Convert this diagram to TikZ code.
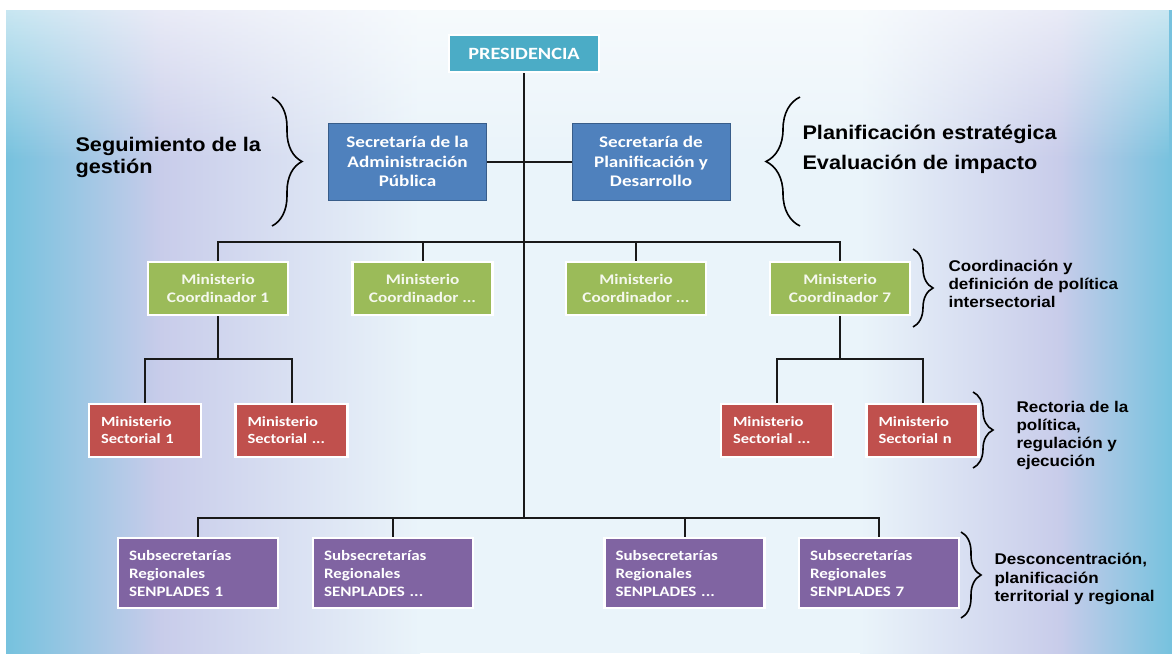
\documentclass[tikz,border=0pt]{standalone}
\usepackage{fontspec}
\setmainfont{Liberation Sans}[FakeStretch=1.1]
\newfontfamily\boxfont{Carlito}[FakeStretch=1.18]
\usetikzlibrary{decorations.pathreplacing, fadings}

\begin{document}
\begin{tikzpicture}[
    x=1pt, y=-1pt,
    % Define colors
    /utils/exec={
        \definecolor{orgTeal}{RGB}{75, 172, 198}
        \definecolor{orgBlue}{RGB}{79, 129, 189}
        \definecolor{orgBlueDark}{RGB}{56, 93, 138}
        \definecolor{orgGreen}{RGB}{155, 187, 89}
        \definecolor{orgRed}{RGB}{192, 80, 77}
        \definecolor{orgPurple}{RGB}{128, 100, 162}
        \definecolor{orgLine}{RGB}{25, 25, 25}
        \definecolor{bgBlue}{RGB}{118, 194, 222}
        \definecolor{bgLav}{RGB}{200, 204, 234}
        \definecolor{bgPale}{RGB}{234, 244, 250}
    },
    % Node Styles
    box/.style={
        draw=white, line width=2.5pt, inner sep=0pt,
        minimum height=53pt, align=center, text=white,
        font=\boxfont\bfseries\fontsize{14.6}{18}\selectfont
    },
    presbox/.style={box, fill=orgTeal, minimum width=150pt, minimum height=37pt,
        font=\boxfont\bfseries\fontsize{17.2}{20}\selectfont},
    secbox/.style={box, draw=orgBlueDark, line width=1pt, fill=orgBlue,
        minimum width=158pt, minimum height=77pt,
        font=\boxfont\bfseries\fontsize{16.2}{19.5}\selectfont},
    coordbox/.style={box, fill=orgGreen, minimum width=140pt, text=white!90!orgGreen},
    sectbox/.style={box, fill=orgRed, align=left, inner xsep=12pt, text width=88pt,
        font=\boxfont\bfseries\fontsize{14}{17}\selectfont},
    subbox/.style={box, fill=orgPurple, align=left, inner xsep=11pt, text width=138pt,
        minimum height=70pt, font=\boxfont\bfseries\fontsize{14.4}{18}\selectfont},
    note/.style={anchor=west, align=left, font=\bfseries\fontsize{15.5}{18}\selectfont},
    bignote/.style={anchor=west, align=left, font=\bfseries\fontsize{19.7}{22}\selectfont},
    conn/.style={draw=orgLine, line width=2pt},
    brc/.style={decorate, decoration={brace, amplitude=#1}, line width=1.6pt},
    brc/.default=20pt
]

% =================================================================
% BACKGROUND
% =================================================================
\useasboundingbox (0,0) rectangle (1172,653);
\fill[white] (0,0) rectangle (1172,653);
\shade[left color=bgBlue, right color=bgLav] (6,10) rectangle (160,653);
\shade[left color=bgLav, right color=bgPale] (160,10) rectangle (420,653);
\fill[bgPale] (420,10) rectangle (860,653);
\shade[left color=bgPale, right color=bgLav] (860,10) rectangle (1060,653);
\shade[left color=bgLav, right color=bgBlue] (1060,10) rectangle (1172,653);
\fill[white, opacity=0.6, path fading=south] (6,10) rectangle (1172,160);

% =================================================================
% TOP: PRESIDENCY AND SECRETARIES
% =================================================================
\node[presbox] (pres) at (524, 53.5) {PRESIDENCIA};

\node[secbox] (secAdm) at (407.5, 161.5) {Secretaría de la\\Administración\\Pública};
\node[secbox] (secPlan) at (651, 161.5) {Secretaría de\\Planificación y\\Desarrollo};

% --- Hubs on the central line ---
\coordinate (hubCoord) at (524, 242);
\coordinate (hubSub) at (524, 518);

\draw[conn] (pres) -- (hubSub);
\draw[conn] (secAdm) -- (secPlan);

% --- Side notes ---
\draw[brc=30pt] (272,97) -- (272,226);
\node[bignote] (segText) at (72, 157) {Seguimiento de la\\gestión};

\draw[brc=34pt] (800,226) -- (800,97);
\node[bignote, font=\bfseries\fontsize{19.7}{30}\selectfont] (planText) at (799, 149)
    {Planificación estratégica\\Evaluación de impacto};

% =================================================================
% MIDDLE: COORDINATING MINISTRIES
% =================================================================
\node[coordbox] (mc1) at (218, 288.5) {Ministerio\\Coordinador 1};
\node[coordbox] (mc2) at (422.5, 288.5) {Ministerio\\Coordinador ...};
\node[coordbox] (mc3) at (636, 288.5) {Ministerio\\Coordinador ...};
\node[coordbox] (mc7) at (840, 288.5) {Ministerio\\Coordinador 7};

\draw[conn] (mc1.north) |- (hubCoord) -| (mc7.north);
\draw[conn] (mc2.north) -- (mc2.north |- hubCoord);
\draw[conn] (mc3.north) -- (mc3.north |- hubCoord);

\draw[brc] (913,249) -- (913,327);
\node[note] (coordText) at (945, 284) {Coordinación y\\definición de política\\intersectorial};

% --- Sector ministries ---
\node[sectbox] (ms1) at (145, 430.5) {Ministerio\\Sectorial 1};
\node[sectbox] (ms2) at (291.5, 430.5) {Ministerio\\Sectorial ...};
\node[sectbox] (ms3) at (777, 430.5) {Ministerio\\Sectorial ...};
\node[sectbox] (msn) at (922.5, 430.5) {Ministerio\\Sectorial n};

\coordinate (leftBus) at (218, 359);
\coordinate (rightBus) at (840, 359);
\draw[conn] (mc1) -- (leftBus);
\draw[conn] (ms1.north) |- (leftBus) -| (ms2.north);
\draw[conn] (mc7) -- (rightBus);
\draw[conn] (ms3.north) |- (rightBus) -| (msn.north);

\draw[brc] (973,392) -- (973,468);
\node[note] (rectText) at (1013, 435) {Rectoria de la\\política,\\regulación y\\ejecución};

% =================================================================
% BOTTOM: REGIONAL SUBSECRETARIES
% =================================================================
\node[subbox] (sr1) at (198, 573) {Subsecretarías\\Regionales\\SENPLADES 1};
\node[subbox] (sr2) at (393, 573) {Subsecretarías\\Regionales\\SENPLADES ...};
\node[subbox] (sr3) at (684.5, 573) {Subsecretarías\\Regionales\\SENPLADES ...};
\node[subbox] (sr7) at (879, 573) {Subsecretarías\\Regionales\\SENPLADES 7};

\draw[conn] (sr1.north) |- (hubSub) -| (sr7.north);
\draw[conn] (sr2.north) -- (sr2.north |- hubSub);
\draw[conn] (sr3.north) -- (sr3.north |- hubSub);

\draw[brc] (961,532) -- (961,618);
\node[note, font=\bfseries\fontsize{15.5}{18.5}\selectfont] (descText) at (991, 579)
    {Desconcentración,\\planificación\\territorial y regional};

\end{tikzpicture}
\end{document}
